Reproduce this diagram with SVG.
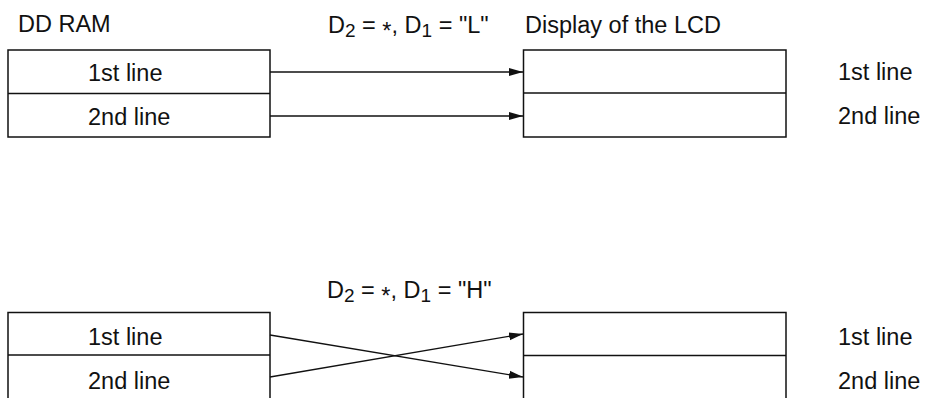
<svg xmlns="http://www.w3.org/2000/svg" width="928" height="398" viewBox="0 0 928 398">
<style>
text{font-family:"Liberation Sans",Arial,sans-serif;font-size:23.5px;fill:#111}
.sub{font-size:19px}
.box{fill:#fff;stroke:#111;stroke-width:1.5}
.div{stroke:#111;stroke-width:1.5}
.conn line{stroke:#111;stroke-width:1.3}
</style>
<defs>
<marker id="arr" markerUnits="userSpaceOnUse" markerWidth="15" markerHeight="10" refX="14" refY="5" orient="auto">
<path d="M0,1 L14,5 L0,9 z" fill="#111"/>
</marker>
</defs>
<rect width="928" height="398" fill="#fff"/>

<text id="t-ddram" x="18" y="32">DD RAM</text>
<text id="t-cond1" x="328" y="33">D<tspan class="sub" dy="4">2</tspan><tspan dy="-4"> = </tspan><tspan dy="6">*</tspan><tspan dy="-6">, D</tspan><tspan class="sub" dy="4">1</tspan><tspan dy="-4"> = "L"</tspan></text>
<text id="t-display" x="525" y="33">Display of the LCD</text>
<text id="t-cond2" x="327" y="298">D<tspan class="sub" dy="4">2</tspan><tspan dy="-4"> = </tspan><tspan dy="6">*</tspan><tspan dy="-6">, D</tspan><tspan class="sub" dy="4">1</tspan><tspan dy="-4"> = "H"</tspan></text>

<g id="ram-top">
<rect class="box" x="8" y="50" width="262" height="87"/>
<line class="div" x1="8" y1="93.5" x2="270" y2="93.5"/>
<text x="88" y="81">1st line</text>
<text x="88" y="125">2nd line</text>
</g>
<g id="lcd-top">
<rect class="box" x="523.5" y="50" width="262.5" height="87"/>
<line class="div" x1="523.5" y1="93" x2="786" y2="93"/>
</g>
<g id="lcd-top-labels">
<text x="838" y="80">1st line</text>
<text x="838" y="124">2nd line</text>
</g>

<g id="ram-bottom">
<rect class="box" x="8" y="312.5" width="262" height="88"/>
<line class="div" x1="8" y1="355" x2="270" y2="355"/>
<text x="88" y="345">1st line</text>
<text x="88" y="389">2nd line</text>
</g>
<g id="lcd-bottom">
<rect class="box" x="523.5" y="312.5" width="262.5" height="88"/>
<line class="div" x1="523.5" y1="355.5" x2="786" y2="355.5"/>
</g>
<g id="lcd-bottom-labels">
<text x="838" y="345">1st line</text>
<text x="838" y="389">2nd line</text>
</g>

<g id="connectors" class="conn">
<line x1="270" y1="72" x2="523" y2="72" marker-end="url(#arr)"/>
<line x1="270" y1="116" x2="523" y2="116" marker-end="url(#arr)"/>
<line x1="270" y1="335" x2="523" y2="377" marker-end="url(#arr)"/>
<line x1="270" y1="377" x2="523" y2="334" marker-end="url(#arr)"/>
</g>
</svg>
